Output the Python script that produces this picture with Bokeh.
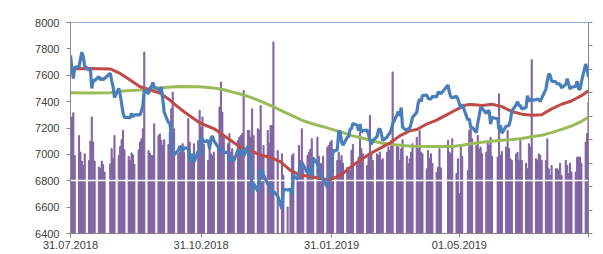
import pandas as pd
from bokeh.plotting import figure
from bokeh.models import Range1d, LinearAxis, FixedTicker, CustomJSTickFormatter
from bokeh.embed import file_html
from bokeh.resources import INLINE

# ---------------- data ----------------
start_date = "2018-07-31"
end_date = "2019-07-31"
holidays = ["2018-08-27", "2018-12-25", "2018-12-26", "2019-01-01",
            "2019-04-19", "2019-04-22", "2019-05-06", "2019-05-27"]
trade_dates = pd.bdate_range(start_date, end_date).difference(pd.to_datetime(holidays))

close = [
    7750,
    7650, 7575, 7660, 7665, 7720, 7775, 7740, 7670, 7640, 7650, 7500, 7560, 7560,
    7590, 7565, 7575, 7565, 7575, 7615, 7560, 7515, 7430,
    7500, 7455, 7385, 7315, 7280, 7280, 7275, 7310, 7285, 7300,
    7300, 7300, 7330, 7370, 7490, 7460, 7505, 7510, 7545, 7510,
    7495, 7475, 7510, 7420, 7320, 7240, 7240, 7145, 7005, 6995,
    7030, 7060, 7055, 7025, 7050, 7045, 6955, 6965, 7005, 6940, 7025, 6995, 7130,
    7115, 7095, 7105, 7040, 7120, 7140, 7105, 7055, 7035, 7035, 7040, 7015,
    7015, 6950, 6975, 6960, 6950, 7035, 7005, 7005, 7040, 6985,
    7060, 7020, 6925, 6705, 6780, 6720, 6810, 6880, 6880, 6845,
    6775, 6770, 6765, 6710, 6720, 6685, 6585, 6735, 6730,
    6735, 6690, 6840, 6810, 6865, 6905, 6940, 6920, 6860, 6895, 6860, 6835, 6970,
    6930, 6900, 6845, 6820, 6810, 6750, 6835, 6840, 6970,
    7020, 7035, 7175, 7175, 7095, 7070, 7130, 7135, 7190, 7195, 7235,
    7220, 7180, 7230, 7170, 7180, 7185, 7150, 7110, 7075,
    7105, 7135, 7185, 7195, 7160, 7105, 7130, 7150, 7160, 7185, 7230,
    7300, 7325, 7290, 7355, 7205, 7180, 7195, 7195, 7235, 7280,
    7320, 7390, 7420, 7400, 7445, 7450, 7425, 7420, 7420, 7440,
    7435, 7470, 7470, 7460, 7525, 7470, 7435, 7430, 7440, 7420,
    7385, 7350, 7380, 7260, 7270, 7205, 7205, 7165, 7240, 7295, 7355, 7350,
    7310, 7330, 7330, 7230, 7280, 7270, 7185, 7220, 7160,
    7215, 7215, 7220, 7260, 7330, 7375, 7400, 7370, 7370, 7345,
    7355, 7445, 7400, 7425, 7410, 7415, 7420, 7415, 7400, 7425,
    7495, 7560, 7610, 7600, 7555, 7550, 7535, 7535, 7530, 7505,
    7530, 7575, 7535, 7495, 7510, 7515, 7555, 7500, 7490, 7550, 7685, 7645, 7585,
]

volume = [
    468,
    497, 515, 333, 418, 347, 309, 290, 340, 311, 393, 497, 390, 309,
    283, 276, 309, 295, 262, 297, 362, 319, 418,
    333, 371, 400, 440, 357, 329, 312, 344, 336, 295,
    357, 390, 404, 447, 774, 354, 343, 333, 333, 468,
    418, 425, 397, 376, 400, 380, 433, 532, 603, 447,
    340, 347, 369, 383, 347, 490, 390, 312, 333, 383, 397, 525, 454,
    497, 380, 312, 397, 340, 333, 347, 360, 539, 646, 518, 418,
    383, 426, 347, 362, 330, 397, 411, 418, 426, 610,
    440, 440, 411, 532, 418, 447, 440, 546, 326, 376,
    440, 383, 461, 461, 817, 354, 340, 248, 113,
    184, 333, 340, 248, 376, 312, 447, 283, 333, 347, 360, 404, 326,
    411, 330, 300, 297, 330, 369, 376, 390, 397,
    360, 312, 347, 312, 333, 300, 283, 269, 269, 355, 380,
    297, 326, 433, 362, 340, 290, 326, 504, 340,
    312, 340, 333, 347, 312, 319, 347, 369, 354, 397, 689,
    376, 369, 312, 362, 400, 330, 297, 319, 347, 383,
    411, 362, 440, 347, 340, 276, 354, 319, 340, 300,
    262, 283, 362, 280, 397, 347, 340, 404, 255, 319,
    170, 369, 330, 269, 440, 454, 404, 376, 418, 360, 369, 340,
    347, 390, 376, 411, 330, 326, 596, 333, 350,
    369, 440, 362, 319, 312, 340, 347, 312, 397, 312,
    300, 276, 383, 369, 741, 319, 312, 340, 333, 312,
    312, 404, 276, 248, 290, 276, 276, 269, 300, 248,
    312, 290, 255, 300, 262, 262, 326, 326, 326, 300, 390, 426, 561,
]

red_dates = ["2018-07-31", "2018-08-14", "2018-08-28", "2018-09-04", "2018-09-11", "2018-09-18",
             "2018-09-25", "2018-10-02", "2018-10-09", "2018-10-14", "2018-10-19", "2018-10-24",
             "2018-10-29", "2018-11-03", "2018-11-09", "2018-11-14", "2018-11-19", "2018-11-24",
             "2018-11-29", "2018-12-05", "2018-12-12", "2018-12-19", "2018-12-26", "2019-01-02",
             "2019-01-09", "2019-01-16", "2019-01-23", "2019-01-30", "2019-02-06", "2019-02-13",
             "2019-02-20", "2019-02-27", "2019-03-06", "2019-03-13", "2019-03-20", "2019-03-27",
             "2019-04-01", "2019-04-08", "2019-04-15", "2019-04-22", "2019-04-29", "2019-05-06",
             "2019-05-10", "2019-05-17", "2019-05-24", "2019-05-31", "2019-06-07", "2019-06-14",
             "2019-06-21", "2019-06-28", "2019-07-05", "2019-07-12", "2019-07-19", "2019-07-26",
             "2019-07-31"]
red_vals = [7650, 7652, 7648, 7614, 7564, 7513,
            7488, 7465, 7412, 7366, 7323, 7285,
            7247, 7221, 7196, 7158, 7120, 7082,
            7044, 7031, 6993, 6978, 6943, 6879,
            6841, 6834, 6816, 6808, 6840, 6900,
            6955, 7005, 7045, 7085, 7140, 7178,
            7189, 7230, 7260, 7300, 7340, 7376,
            7378, 7370, 7380, 7362, 7325, 7305,
            7297, 7300, 7345, 7380, 7405, 7445,
            7483]

green_dates = ["2018-07-31", "2018-08-14", "2018-08-28", "2018-09-04", "2018-09-18", "2018-10-02",
               "2018-10-16", "2018-10-30", "2018-11-09", "2018-11-16", "2018-11-23", "2018-11-30",
               "2018-12-07", "2018-12-14", "2018-12-21", "2018-12-28", "2019-01-04", "2019-01-11",
               "2019-01-18", "2019-01-25", "2019-02-01", "2019-02-08", "2019-02-15", "2019-02-22",
               "2019-03-01", "2019-03-08", "2019-03-15", "2019-03-22", "2019-03-29", "2019-04-12",
               "2019-04-26", "2019-05-03", "2019-05-10", "2019-05-17", "2019-05-24", "2019-05-31",
               "2019-06-07", "2019-06-14", "2019-06-21", "2019-06-28", "2019-07-05", "2019-07-12",
               "2019-07-19", "2019-07-26", "2019-07-31"]
green_vals = [7468, 7465, 7468, 7478, 7488, 7505,
              7515, 7513, 7503, 7490, 7470, 7450,
              7425, 7395, 7360, 7325, 7290, 7255,
              7230, 7210, 7188, 7165, 7140, 7122,
              7102, 7085, 7075, 7068, 7062, 7060,
              7060, 7070, 7082, 7092, 7100, 7107,
              7112, 7120, 7133, 7145, 7165, 7190,
              7215, 7250, 7283]

y_ticks = [6400, 6600, 6800, 7000, 7200, 7400, 7600, 7800, 8000]
vol_ticks = [0, 100, 200, 300, 400, 500, 600, 700, 800, 900]
x_tick_dates = ["2018-07-31", "2018-10-31", "2019-01-31", "2019-05-01", "2019-07-31"]
x_tick_labels = ["31.07.2018", "31.10.2018", "31.01.2019", "01.05.2019", ""]

assert len(close) == len(trade_dates) == len(volume)

# ---------------- figure ----------------
FONT = "Liberation Sans"
AXIS_GREY = "#868686"
TEXT = "#404040"

p = figure(width=603, height=254, x_axis_type="datetime",
           x_range=Range1d(pd.Timestamp(start_date), pd.Timestamp(end_date)),
           y_range=Range1d(6400, 8000),
           output_backend="svg", toolbar_location=None,
           min_border_left=70, min_border_right=15, min_border_top=22, min_border_bottom=21)
p.outline_line_color = None
p.background_fill_color = "white"
p.border_fill_color = "white"
p.xgrid.visible = False
p.ygrid.visible = False

p.extra_y_ranges = {"vol": Range1d(0, 900)}

day_ms = 86400000
p.vbar(x=trade_dates, top=volume, bottom=0, width=0.75 * day_ms,
       y_range_name="vol", color="#8064A2")
p.hspan(y=[6800], line_color="white", line_width=1.5)

p.line(pd.to_datetime(green_dates), green_vals, line_color="#9BBB59", line_width=3)
p.line(pd.to_datetime(red_dates), red_vals, line_color="#BE4B48", line_width=3)
p.line(trade_dates, close, line_color="#4A7EBB", line_width=3.2)

# left axis
ya = p.yaxis[0]
ya.ticker = FixedTicker(ticks=y_ticks)
ya.axis_line_color = AXIS_GREY
ya.major_tick_line_color = AXIS_GREY
ya.major_tick_out = 4
ya.major_tick_in = 0
ya.minor_tick_line_color = None
ya.major_label_standoff = 7
ya.major_label_text_font = FONT
ya.major_label_text_font_size = "11px"
ya.major_label_text_color = TEXT

# bottom axis
tick_ms = [int(pd.Timestamp(d).value // 10**6) for d in x_tick_dates]
xa = p.xaxis[0]
xa.ticker = FixedTicker(ticks=tick_ms)
xa.major_label_overrides = {t: lab for t, lab in zip(tick_ms, x_tick_labels)}
xa.axis_line_color = AXIS_GREY
xa.major_tick_line_color = AXIS_GREY
xa.major_tick_out = 4
xa.major_tick_in = 0
xa.minor_tick_line_color = None
xa.major_label_standoff = 3
xa.major_label_text_font = FONT
xa.major_label_text_font_size = "11px"
xa.major_label_text_color = TEXT

# right axis (volume scale, its labels fall outside the visible area in the original)
ra = LinearAxis(y_range_name="vol", ticker=FixedTicker(ticks=vol_ticks),
                formatter=CustomJSTickFormatter(code="return ''"),
                axis_line_color=AXIS_GREY, major_tick_line_color=AXIS_GREY,
                major_tick_out=4, major_tick_in=0, minor_tick_line_color=None,
                major_label_standoff=0)
p.add_layout(ra, "right")

# top border line
ta = LinearAxis(ticker=FixedTicker(ticks=[]), axis_line_color="#8EB4E3",
                major_tick_line_color=None, minor_tick_line_color=None,
                major_label_standoff=0)
p.add_layout(ta, "above")

open("out.html", "w").write(file_html(p, INLINE))
